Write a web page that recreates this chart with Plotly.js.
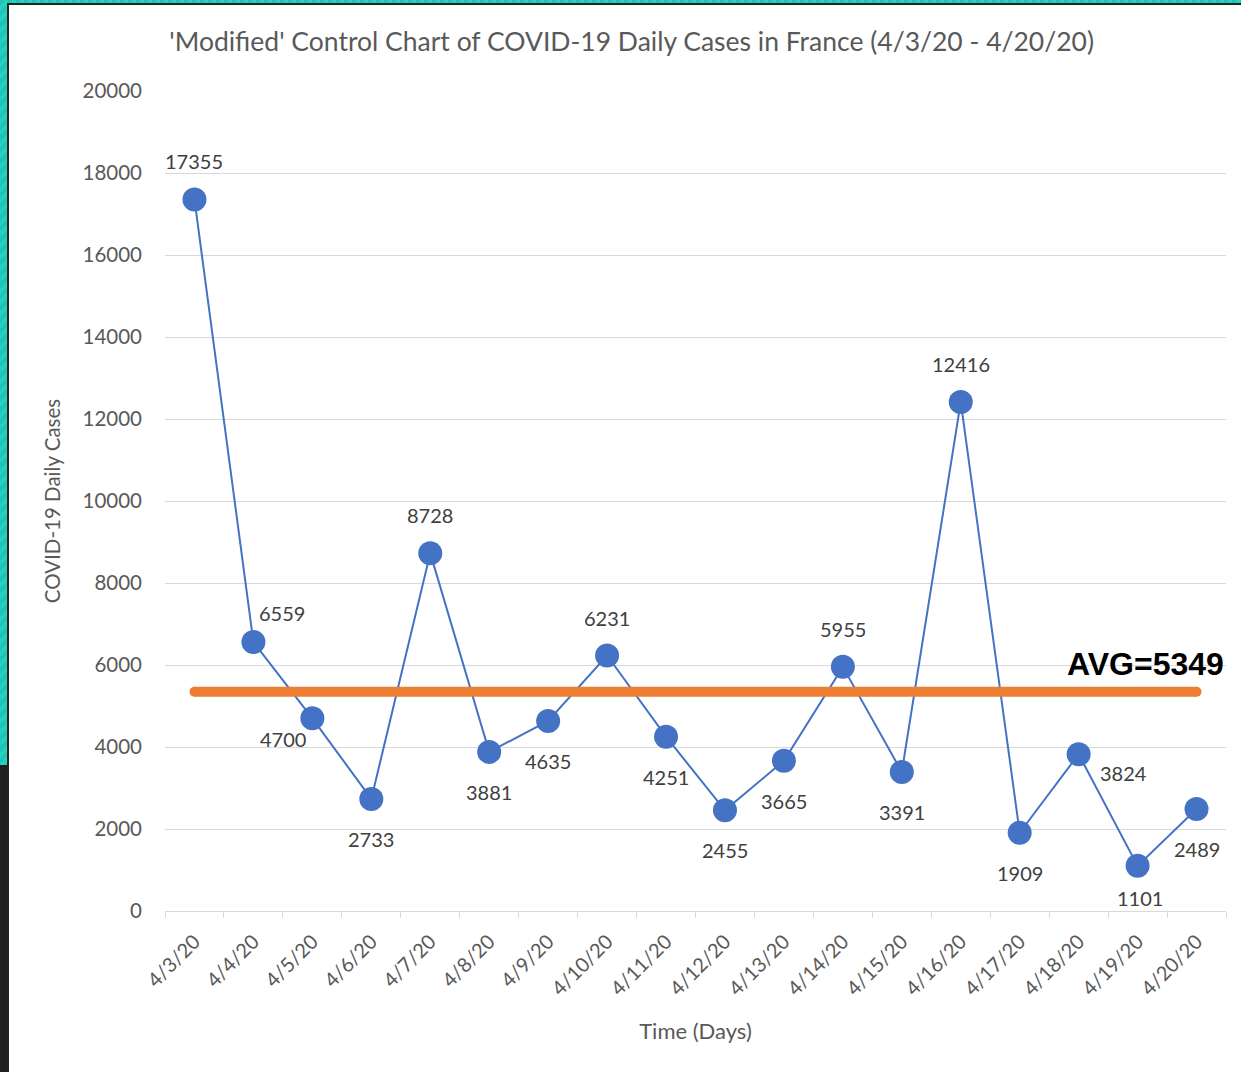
<!DOCTYPE html>
<html>
<head>
<meta charset="utf-8">
<script src="https://cdn.plot.ly/plotly-3.0.1.min.js"></script>
<style>
  html, body { margin: 0; padding: 0; background: #ffffff; }
  #chart { position: absolute; left: 0; top: 0; width: 1241px; height: 1072px; }
  .edge { position: absolute; pointer-events: none; z-index: 5; }
</style>
</head>
<body>
<div id="chart"></div>
<div class="edge" style="left:0;top:0;width:7px;height:765px;background:repeating-linear-gradient(135deg,#1fc4b4 0 4px,#27cfbf 4px 8px);"></div>
<div class="edge" style="left:0;top:765px;width:7px;height:307px;background:#1f1f1f;"></div>
<div class="edge" style="left:7px;top:3px;width:2px;height:1069px;background:#222;"></div>
<div class="edge" style="left:0;top:0;width:1241px;height:3px;background:repeating-linear-gradient(90deg,#1fc4b4 0 4px,#27cfbf 4px 8px);"></div>
<div class="edge" style="left:7px;top:3px;width:1234px;height:2px;background:#222;"></div>
<script>
const days = ["4/3/20","4/4/20","4/5/20","4/6/20","4/7/20","4/8/20","4/9/20","4/10/20","4/11/20",
              "4/12/20","4/13/20","4/14/20","4/15/20","4/16/20","4/17/20","4/18/20","4/19/20","4/20/20"];
const dailyCases = [17355, 6559, 4700, 2733, 8728, 3881, 4635, 6231, 4251,
                    2455, 3665, 5955, 3391, 12416, 1909, 3824, 1101, 2489];
const averageCases = 5349;
const labelPlacement = ["above","aboveRight","belowLeft","below","above","below","below","above","below",
                        "below","below","above","below","above","below","right","belowNear","below"];

const offsets = {
  above: [0, -38], below: [0, 40], aboveRight: [29, -29], belowLeft: [-29, 21],
  right: [45, 19], belowNear: [2, 32]
};
const grey = "#595959";
const fontFam = "Lato, 'Open Sans', sans-serif";

const casesTrace = {
  x: days,
  y: dailyCases,
  mode: "lines+markers",
  line: { color: "#4472C4", width: 2 },
  marker: { color: "#4472C4", size: 24 },
  showlegend: false
};
const avgTrace = {
  x: [days[0], days[days.length - 1]],
  y: [averageCases, averageCases],
  mode: "lines+markers",
  line: { color: "#ED7D31", width: 10 },
  marker: { color: "#ED7D31", size: 10 },
  hoverinfo: "skip",
  showlegend: false
};

const annotations = days.map((d, i) => {
  const o = offsets[labelPlacement[i]];
  return {
    x: d, y: dailyCases[i], xref: "x", yref: "y",
    text: String(dailyCases[i]), showarrow: true, arrowcolor: "rgba(0,0,0,0)",
    ax: o[0], ay: o[1], font: { family: fontFam, size: 20, color: "#404040" }
  };
});
annotations.push({
  x: 1, xref: "paper", xanchor: "right", y: averageCases, yref: "y", yshift: 28,
  text: "<b>AVG=" + averageCases + "</b>", showarrow: false,
  font: { family: "'Liberation Sans', Arial, sans-serif", size: 32, color: "#000000" }
});

const layout = {
  width: 1241, height: 1072,
  margin: { l: 165, r: 15, t: 91, b: 161 },
  paper_bgcolor: "rgba(0,0,0,0)",
  plot_bgcolor: "#ffffff",
  font: { family: fontFam, color: grey },
  title: {
    text: "'Modified' Control Chart of COVID-19 Daily Cases in France (4/3/20 - 4/20/20)",
    x: 0.509, xanchor: "center", y: 0.961, yanchor: "middle",
    font: { family: fontFam, size: 26.5, color: grey }
  },
  xaxis: {
    type: "category",
    categoryorder: "array", categoryarray: days,
    tickson: "boundaries",
    ticks: "outside", ticklen: 6, tickcolor: "#d9d9d9",
    showgrid: false, showline: true, linecolor: "#d9d9d9", linewidth: 1,
    tickangle: -45,
    ticklabelstandoff: 10,
    tickfont: { family: fontFam, size: 20, color: grey },
    title: { text: "Time (Days)", font: { family: fontFam, size: 22, color: grey }, standoff: 24 },
    range: [-0.5, days.length - 0.5],
    fixedrange: true
  },
  yaxis: {
    range: [0, 20000],
    dtick: 2000,
    tickformat: "d",
    showgrid: true, gridcolor: "#d9d9d9", gridwidth: 1,
    zeroline: false, showline: false, ticks: "",
    ticklabelstandoff: 22,
    tickfont: { family: fontFam, size: 20.5, color: grey },
    title: { text: "COVID-19 Daily Cases", font: { family: fontFam, size: 20.5, color: grey }, standoff: 16 },
    fixedrange: true
  },
  annotations: annotations
};

Plotly.newPlot("chart", [casesTrace, avgTrace], layout, { displayModeBar: false, staticPlot: true });
</script>
</body>
</html>
